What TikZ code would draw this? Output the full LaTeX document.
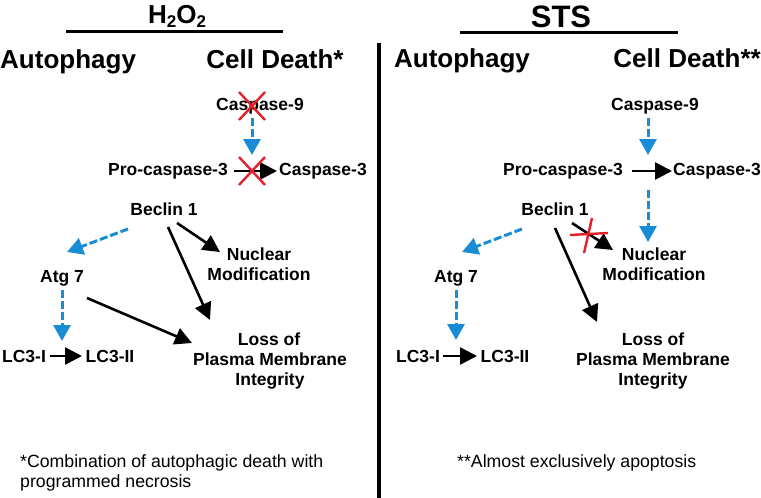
\documentclass[tikz,border=0pt]{standalone}
\usepackage{fontspec}
\setmainfont{Liberation Sans}
\usetikzlibrary{arrows.meta}
\definecolor{arrblue}{RGB}{24,140,212}
\definecolor{xred}{RGB}{228,32,40}
\tikzset{
 lbl/.style={inner sep=0pt, anchor=base, font=\fontsize{17.5}{20}\selectfont\bfseries},
 head/.style={inner sep=0pt, font=\fontsize{26}{30}\selectfont\bfseries},
 note/.style={inner sep=0pt, anchor=base west, font=\fontsize{17.7}{20}\selectfont},
 blk/.style={line width=2.6pt, -{Triangle[length=17pt,width=17pt]}},
 blu/.style={arrblue, line width=3pt, dash pattern=on 8pt off 3pt, -{Triangle[length=16pt,width=17pt]}},
 cross/.style={xred, line width=2.4pt},
 rulebar/.style={line width=3pt},
}
\begin{document}
\begin{tikzpicture}[x=1pt,y=-1pt]
\useasboundingbox (0,0) rectangle (761,498);
% titles
\node[head, anchor=base] (t1) at (177,23) {H\raisebox{-4pt}{\fontsize{17}{17}\selectfont 2}O\raisebox{-4pt}{\fontsize{17}{17}\selectfont 2}};
\draw[rulebar] (66,31) -- (283,31);
\node[head, font=\fontsize{31}{34}\selectfont\bfseries, anchor=base] (t2) at (561,27) {STS};
\draw[rulebar] (460,32) -- (678,32);
\draw[line width=3.5pt] (379,43) -- (379,498);
\node[head, anchor=base west] (a1) at (0,68) {Autophagy};
\node[head, anchor=base] (d1) at (275,68) {Cell Death*};
\node[head, anchor=base] (a2) at (462,67) {Autophagy};
\node[head, anchor=base east] (d2) at (761,67) {Cell Death**};
% left nodes
\node[lbl] (c9L) at (260,110) {Caspase-9};
\node[lbl] (pc3L) at (168,175) {Pro-caspase-3};
\node[lbl] (c3L) at (323,175) {Caspase-3};
\node[lbl] (bL) at (164,215) {Beclin 1};
\node[lbl] (atgL) at (62,282) {Atg 7};
\node[lbl] (lc1L) at (24,362) {LC3-I};
\node[lbl] (lc2L) at (110,362) {LC3-II};
\node[lbl] (nucL) at (259,260) {Nuclear};
\node[lbl] (modL) at (259,280) {Modification};
\node[lbl] (lossL) at (269,345) {Loss of};
\node[lbl] (pmL) at (270,365) {Plasma Membrane};
\node[lbl] (intL) at (270,385) {Integrity};
% left arrows
\draw[blu] ([shift={(-8,8)}]c9L.base) -- ([shift={(-8,45)}]c9L.base);
\draw[blk] ([shift={(66,-4)}]pc3L.base) -- ([shift={(-46,-4)}]c3L.base);
\draw[blu] ([shift={(-36,14)}]bL.base) -- ([shift={(5,-30)}]atgL.base);
\draw[blu] ([shift={(0,8)}]atgL.base) -- ([shift={(0,59)}]atgL.base);
\draw[blk] ([shift={(26,-6)}]lc1L.base) -- ([shift={(-28,-6)}]lc2L.base);
\draw[blk] ([shift={(13,8)}]bL.base) -- ([shift={(-39,-8)}]nucL.base);
\draw[blk] ([shift={(4,12)}]bL.base) -- ([shift={(-59,-25)}]lossL.base);
\draw[blk] ([shift={(25,16)}]atgL.base) -- ([shift={(-77,-2)}]lossL.base);
\draw[cross] (239,92) -- (265,120) (265,92) -- (239,120);
\draw[cross] (239,157) -- (265,185) (265,157) -- (239,185);
% right nodes
\node[lbl] (c9R) at (655,110) {Caspase-9};
\node[lbl] (pc3R) at (563,175) {Pro-caspase-3};
\node[lbl] (c3R) at (717,175) {Caspase-3};
\node[lbl] (bR) at (555,215) {Beclin 1};
\node[lbl] (atgR) at (456,282) {Atg 7};
\node[lbl] (lc1R) at (418,362) {LC3-I};
\node[lbl] (lc2R) at (505,362) {LC3-II};
\node[lbl] (nucR) at (654,260) {Nuclear};
\node[lbl] (modR) at (654,280) {Modification};
\node[lbl] (lossR) at (653,345) {Loss of};
\node[lbl] (pmR) at (653,365) {Plasma Membrane};
\node[lbl] (intR) at (653,385) {Integrity};
% right arrows
\draw[blu] ([shift={(-7,8)}]c9R.base) -- ([shift={(-7,45)}]c9R.base);
\draw[blk] ([shift={(69,-4)}]pc3R.base) -- ([shift={(-45,-4)}]c3R.base);
\draw[blu] ([shift={(-69,15)}]c3R.base) -- ([shift={(-6,-18)}]nucR.base);
\draw[blu] ([shift={(-33,14)}]bR.base) -- ([shift={(6,-30)}]atgR.base);
\draw[blu] ([shift={(0,8)}]atgR.base) -- ([shift={(0,58)}]atgR.base);
\draw[blk] ([shift={(25,-6)}]lc1R.base) -- ([shift={(-28,-6)}]lc2R.base);
\draw[blk] ([shift={(17,8)}]bR.base) -- ([shift={(-41,-10)}]nucR.base);
\draw[blk] ([shift={(0,13)}]bR.base) -- ([shift={(-56,-23)}]lossR.base);
\draw[cross] (570,235) -- (608,233) (592,218) -- (584,253);
% footnotes
\node[note] (f1) at (20,467) {*Combination of autophagic death with};
\node[note] (f2) at (20,487) {programmed necrosis};
\node[note] (f3) at (457,467) {**Almost exclusively apoptosis};
\end{tikzpicture}
\end{document}
